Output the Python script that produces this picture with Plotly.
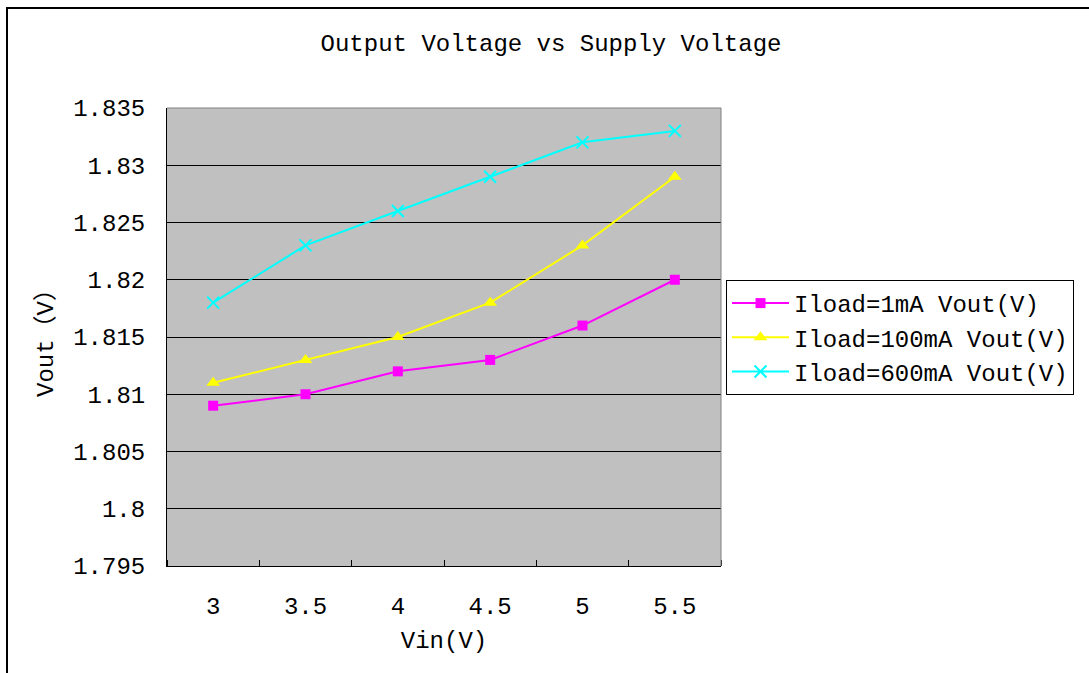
import plotly.graph_objects as go

vin = [3, 3.5, 4, 4.5, 5, 5.5]
vin_labels = ["3", "3.5", "4", "4.5", "5", "5.5"]
vout_1mA = [1.809, 1.810, 1.812, 1.813, 1.816, 1.820]
vout_100mA = [1.811, 1.813, 1.815, 1.818, 1.823, 1.829]
vout_600mA = [1.818, 1.823, 1.826, 1.829, 1.832, 1.833]
y_ticks = [1.795, 1.8, 1.805, 1.81, 1.815, 1.82, 1.825, 1.83, 1.835]
y_labels = ["1.795", "1.8", "1.805", "1.81", "1.815", "1.82", "1.825", "1.83", "1.835"]

FONT = "Liberation Mono, Noto Sans CJK SC, monospace"
FS = 24
W, H = 1089, 673
L, R, T, B = 167, 721, 108, 566

fig = go.Figure()
fig.add_trace(go.Scatter(x=vin, y=vout_1mA, name="Iload=1mA Vout(V)", mode="lines+markers",
                         legendgroup="a",
                         line=dict(color="#FF00FF", width=2),
                         marker=dict(symbol="square", size=10, color="#FF00FF")))
fig.add_trace(go.Scatter(x=vin, y=vout_100mA, name="Iload=100mA Vout(V)", mode="lines+markers",
                         legendgroup="b",
                         line=dict(color="#FFFF00", width=2),
                         marker=dict(symbol="triangle-up", size=12, color="#FFFF00")))
fig.add_trace(go.Scatter(x=vin, y=vout_600mA, name="Iload=600mA Vout(V)", mode="lines+markers",
                         legendgroup="c",
                         line=dict(color="#00FFFF", width=2),
                         marker=dict(symbol="x-thin-open", size=12, color="#00FFFF",
                                     line=dict(color="#00FFFF", width=2))))

pw, ph = R - L, B - T
def px(x):
    return (x - L) / pw
def py(y):
    return (B - y) / ph

fig.update_layout(
    width=W, height=H,
    margin=dict(l=L, r=W - R, t=T, b=H - B, autoexpand=False),
    paper_bgcolor="white",
    plot_bgcolor="#C0C0C0",
    font=dict(family=FONT, size=FS, color="black"),
    title=dict(text="Output Voltage vs Supply Voltage", x=551 / W, xref="container", xanchor="center",
               y=1 - 43 / H, yref="container", yanchor="middle",
               font=dict(family=FONT, size=FS, color="black")),
    showlegend=True,
    legend=dict(x=px(726), y=py(280), xanchor="left", yanchor="top",
                bordercolor="black", borderwidth=1, bgcolor="white",
                font=dict(family=FONT, size=FS), tracegroupgap=0,
                itemwidth=57),
    xaxis=dict(range=[2.75, 5.75], tickvals=vin, ticktext=vin_labels, ticks="",
               showgrid=False, zeroline=False, showline=True, linecolor="black", linewidth=1,
               ticklabelstandoff=18,
               minor=dict(tick0=2.75, dtick=0.5, ticks="inside", ticklen=6, tickcolor="black",
                          showgrid=False),
               title=dict(text="Vin(V)", standoff=11, font=dict(family=FONT, size=FS)),
               fixedrange=True),
    yaxis=dict(range=[1.795, 1.835], tickvals=y_ticks, ticktext=y_labels,
               ticks="inside", ticklen=5, tickcolor="black",
               showgrid=True, gridcolor="black", gridwidth=1, zeroline=False,
               showline=True, linecolor="black", linewidth=1,
               ticklabelstandoff=16,
               title=dict(text="Vout（V）", standoff=12, font=dict(family=FONT, size=FS)),
               fixedrange=True),
    shapes=[
        dict(type="line", xref="paper", yref="paper", x0=0, x1=1, y0=1, y1=1,
             line=dict(color="#808080", width=1)),
        dict(type="line", xref="paper", yref="paper", x0=1, x1=1, y0=0, y1=1,
             line=dict(color="#808080", width=1)),
        dict(type="rect", xref="paper", yref="paper", x0=px(7), x1=px(1110), y0=py(8), y1=py(700),
             line=dict(color="black", width=2), fillcolor="rgba(0,0,0,0)"),
    ],
)

fig.write_html("out.html")
